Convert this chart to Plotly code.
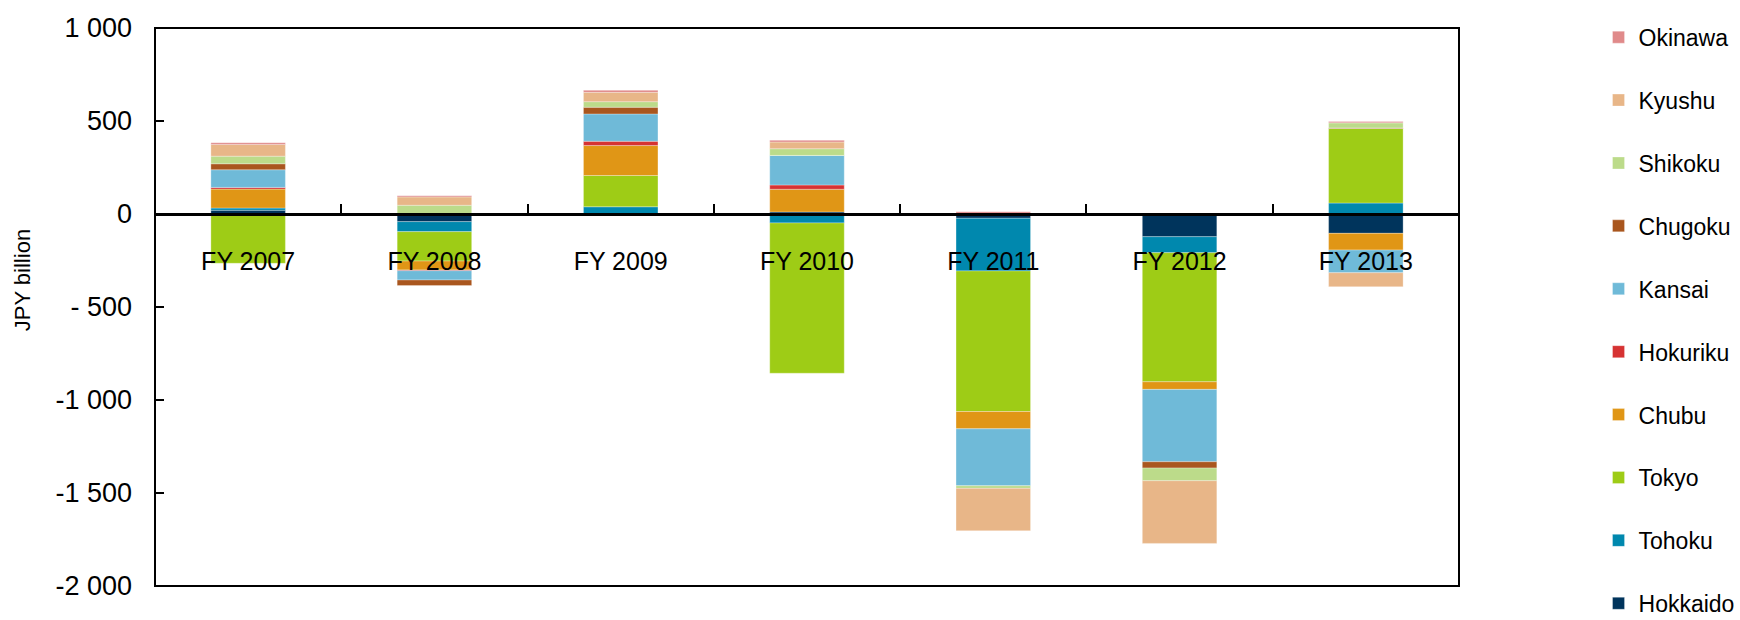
import plotly.graph_objects as go

years = ["FY 2007", "FY 2008", "FY 2009", "FY 2010", "FY 2011", "FY 2012", "FY 2013"]

# stacking order: bottom (first) to top (last)
regions = ["Hokkaido", "Tohoku", "Tokyo", "Chubu", "Hokuriku",
           "Kansai", "Chugoku", "Shikoku", "Kyushu", "Okinawa"]

hokkaido = [20, -41, -3, 11, -23, -122, -104]
tohoku = [12, -54, 39, -48, -283, -86, 59]
tokyo = [-265, -158, 168, -808, -756, -694, 401]
chubu = [102, -48, 161, 122, -93, -41, -90]
hokuriku = [9, -4, 23, 23, 0, 0, 0]
kansai = [95, -50, 147, 159, -306, -389, -122]
chugoku = [32, -30, 36, 0, 0, -34, 3]
shikoku = [41, 47, 30, 36, -14, -68, 27]
kyushu = [63, 45, 50, 36, -228, -337, -75]
okinawa = [9, 6, 11, 9, 12, 0, 7]

series = [hokkaido, tohoku, tokyo, chubu, hokuriku,
          kansai, chugoku, shikoku, kyushu, okinawa]

colors = ["#00345C", "#0088AE", "#9ECC16", "#E09616", "#D63333",
          "#6FBAD8", "#A9561E", "#BCDB8A", "#E8B688", "#E08A8A"]

y_tickvals = [1000, 500, 0, -500, -1000, -1500, -2000]
y_ticktext = ["1 000", "500", "0", "- 500", "-1 000", "-1 500", "-2 000"]
y_range = [-2000, 1000]
y_title = "JPY billion"

FONT = "Liberation Sans, Arial, sans-serif"

fig = go.Figure()
n = len(regions)
for i, (name, vals, col) in enumerate(zip(regions, series, colors)):
    fig.add_trace(go.Bar(
        x=years, y=vals, name=name, legendgroup=name, legendrank=n - i,
        marker=dict(color=col, line=dict(color="rgba(255,255,255,0.6)", width=0.5)),
        width=0.40,
    ))

x_pos = (0 - y_range[0]) / (y_range[1] - y_range[0])

fig.update_layout(
    width=1740, height=620,
    barmode="relative",
    paper_bgcolor="white", plot_bgcolor="white",
    margin=dict(l=155, r=281, t=28, b=34, autoexpand=False),
    font=dict(family=FONT, size=26, color="black"),
    showlegend=True,
    legend=dict(
        x=1.107, xanchor="left", y=1.022, yanchor="top",
        traceorder="grouped", tracegroupgap=30.0, maxheight=700,
        font=dict(family=FONT, size=23, color="black"),
        bgcolor="rgba(0,0,0,0)",
    ),
    xaxis=dict(
        type="category", anchor="free", position=x_pos,
        showline=True, linecolor="black", linewidth=3,
        ticks="inside", ticklen=9, tickwidth=2, tickcolor="black",
        tickson="boundaries", showgrid=False, zeroline=False,
        ticklabelstandoff=24,
        tickfont=dict(family=FONT, size=25, color="black"),
    ),
    yaxis=dict(
        range=y_range, tickvals=y_tickvals, ticktext=y_ticktext,
        showline=False, ticks="inside", ticklen=9, tickwidth=2, tickcolor="black",
        showgrid=False, zeroline=False,
        ticklabelstandoff=22,
        tickfont=dict(family=FONT, size=27, color="black"),
    ),
    shapes=[dict(type="rect", xref="paper", yref="paper", x0=0, x1=1, y0=0, y1=1,
                 line=dict(color="black", width=2), fillcolor="rgba(0,0,0,0)", layer="above")],
    annotations=[dict(text=y_title, xref="paper", yref="paper", x=-0.102, y=0.548,
                      textangle=-90, showarrow=False, xanchor="center", yanchor="middle",
                      font=dict(family=FONT, size=22, color="black"))],
)

fig.write_html("out.html", config={"displayModeBar": False},
               post_script="document.body.style.margin='0';")
